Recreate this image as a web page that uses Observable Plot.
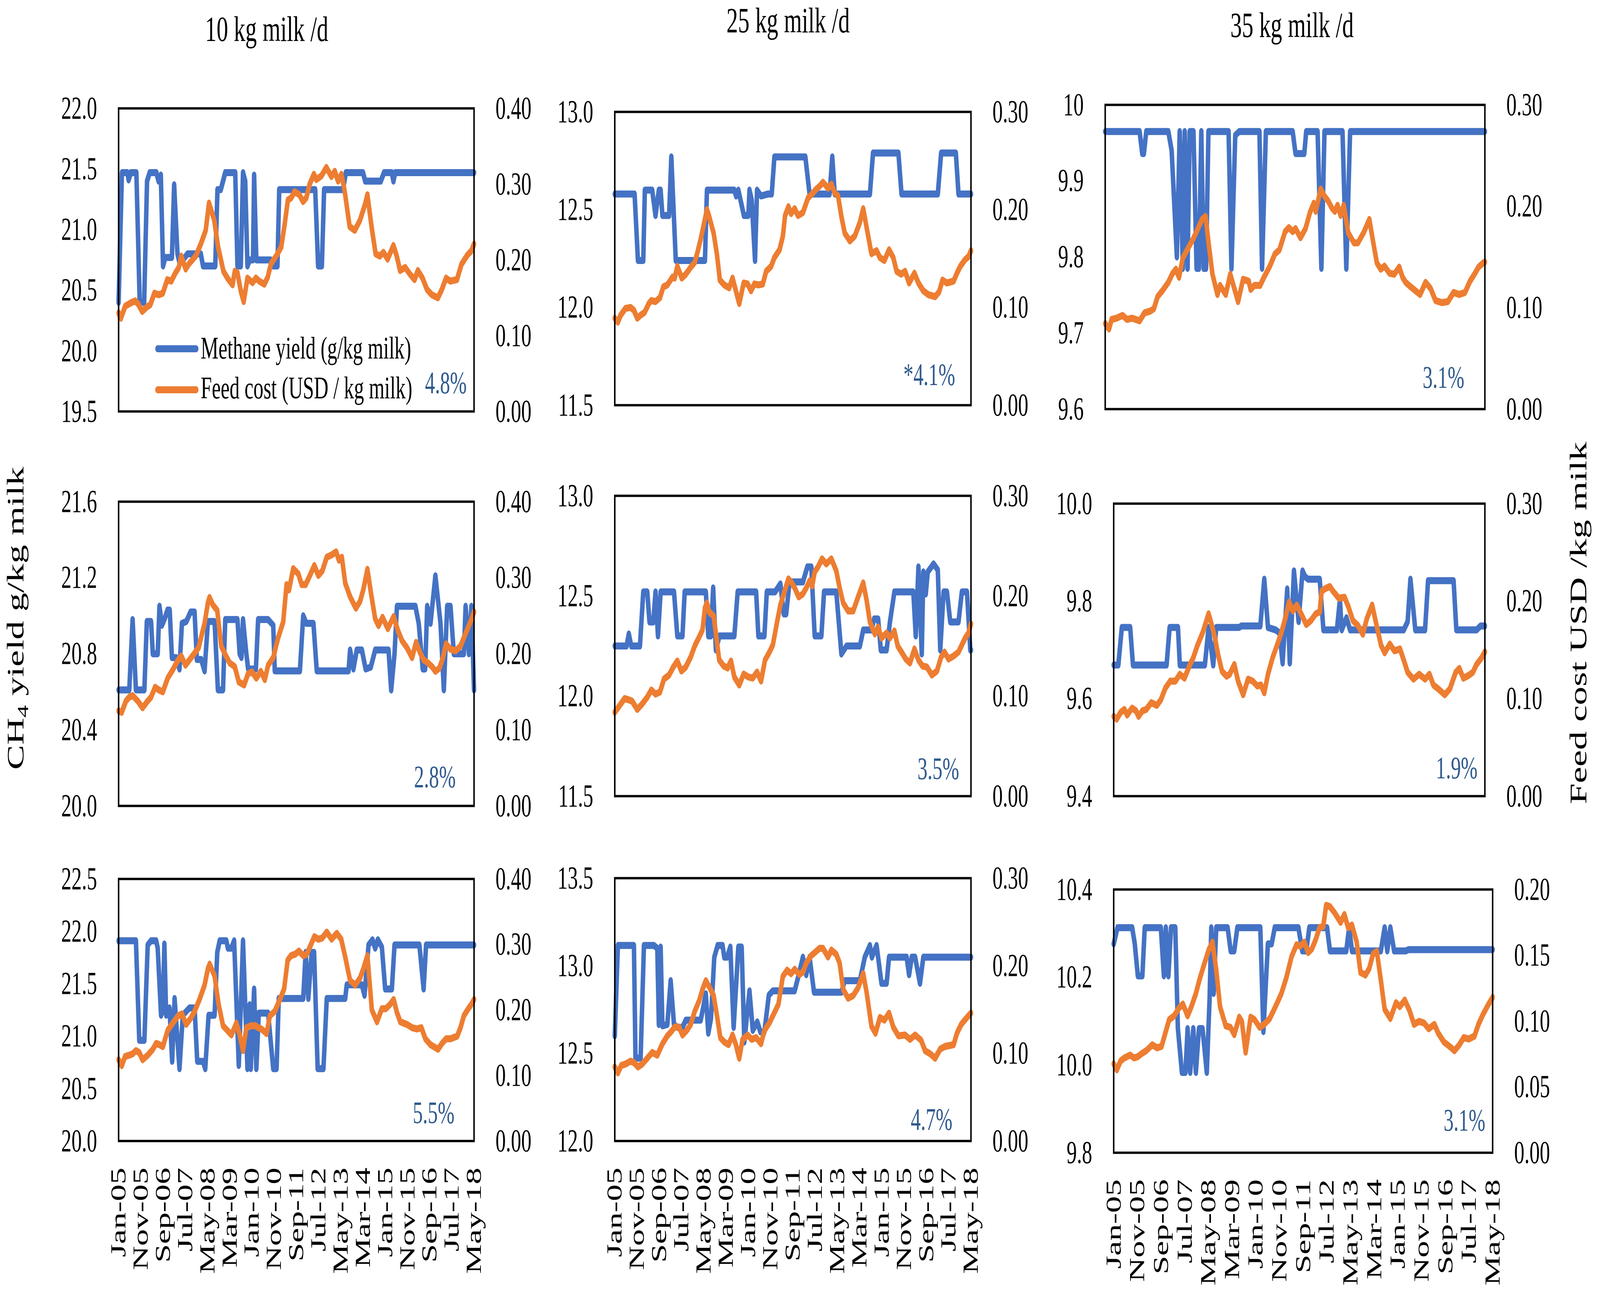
<!DOCTYPE html>
<html><head><meta charset="utf-8">
<script src="https://cdn.jsdelivr.net/npm/d3@7"></script>
<script src="https://cdn.jsdelivr.net/npm/@observablehq/plot@0.6"></script>
<style>
html,body{margin:0;padding:0;background:#fff;overflow:hidden;}
#page{position:absolute;left:0;top:0;width:6401px;height:3326px;overflow:hidden;background:#fff;font-family:"Liberation Serif",serif;transform-origin:0 0;}
.panel{position:absolute;}
#overlay{position:absolute;left:0;top:0;}
</style></head><body><div id="page"></div>
<script>
// ---------- DATA (month index 0 = Jan-05 ... 160 = May-18) ----------
const monthTicks = [0,10,20,30,40,50,60,70,80,90,100,110,120,130,140,150,160];
const monthLabels = ["Jan-05","Nov-05","Sep-06","Jul-07","May-08","Mar-09","Jan-10","Nov-10","Sep-11","Jul-12","May-13","Mar-14","Jan-15","Nov-15","Sep-16","Jul-17","May-18"];
const columnTitles = ["10 kg milk /d","25 kg milk /d","35 kg milk /d"];
const seriesNames = ["Methane yield (g/kg milk)","Feed cost (USD / kg milk)"];
const pctLabels = ["4.8%","*4.1%","3.1%","2.8%","3.5%","1.9%","5.5%","4.7%","3.1%"];

const yTicks_10A = [19.5,20,20.5,21,21.5,22], yLabels_10A = ["19.5","20.0","20.5","21.0","21.5","22.0"];
const yTicks_25A = [11.5,12,12.5,13], yLabels_25A = ["11.5","12.0","12.5","13.0"];
const yTicks_35A = [9.6,9.7,9.8,9.9,10], yLabels_35A = ["9.6","9.7","9.8","9.9","10"];
const yTicks_10B = [20,20.4,20.8,21.2,21.6], yLabels_10B = ["20.0","20.4","20.8","21.2","21.6"];
const yTicks_25B = [11.5,12,12.5,13], yLabels_25B = ["11.5","12.0","12.5","13.0"];
const yTicks_35B = [9.4,9.6,9.8,10], yLabels_35B = ["9.4","9.6","9.8","10.0"];
const yTicks_10C = [20,20.5,21,21.5,22,22.5], yLabels_10C = ["20.0","20.5","21.0","21.5","22.0","22.5"];
const yTicks_25C = [12,12.5,13,13.5], yLabels_25C = ["12.0","12.5","13.0","13.5"];
const yTicks_35C = [9.8,10,10.2,10.4], yLabels_35C = ["9.8","10.0","10.2","10.4"];
const cTicks_040 = [0,0.1,0.2,0.3,0.4], cLabels_040 = ["0.00","0.10","0.20","0.30","0.40"];
const cTicks_030 = [0,0.1,0.2,0.3], cLabels_030 = ["0.00","0.10","0.20","0.30"];
const cTicks_020 = [0,0.05,0.1,0.15,0.2], cLabels_020 = ["0.00","0.05","0.10","0.15","0.20"];

const ch4_10A = [[0,20.40],[1.5,21.47],[4,21.47],[4.5,21.41],[5.5,21.47],[8,21.47],[9.5,20.40],[11.5,20.40],[12.8,21.40],[14,21.47],[17,21.47],[18,21.40],[19,21.45],[20,20.70],[21,20.77],[24,20.77],[25,21.37],[26.5,20.80],[27.5,20.72],[29,20.75],[31,20.80],[37,20.80],[38,20.70],[43.5,20.70],[44.5,21.33],[46,21.33],[47,21.40],[48,21.47],[52.5,21.47],[53.5,20.70],[55,20.70],[56,21.47],[57,21.40],[58,20.70],[59,20.75],[60.5,20.75],[61,21.45],[62,20.75],[68.5,20.75],[69.5,20.70],[71.5,20.70],[72.3,21.33],[88.5,21.33],[89.8,20.70],[91.5,20.70],[92.5,21.33],[101,21.33],[102.3,21.47],[110,21.47],[111,21.40],[118,21.40],[119.5,21.47],[123,21.47],[123.7,21.40],[124.5,21.47],[160,21.47]];
const cost_10A = [[0,0.130],[1,0.123],[3,0.139],[5.3,0.143],[7.5,0.146],[9,0.141],[10.6,0.132],[12.8,0.138],[14.3,0.141],[16.1,0.156],[18.1,0.154],[19.9,0.156],[21.9,0.174],[23.7,0.172],[25.6,0.183],[27.1,0.190],[28.2,0.205],[30.2,0.188],[31.7,0.195],[34.7,0.205],[37,0.221],[39.2,0.239],[40.7,0.275],[43,0.253],[44.8,0.217],[47.2,0.185],[49,0.176],[51.3,0.167],[52.3,0.185],[53.5,0.183],[55,0.159],[56.3,0.145],[58,0.176],[60.3,0.170],[61.8,0.176],[63.3,0.172],[65.6,0.168],[67.1,0.177],[68.6,0.195],[70.9,0.205],[73.2,0.217],[74.7,0.246],[76.2,0.279],[77.7,0.282],[79.2,0.290],[81.4,0.286],[83,0.277],[84.5,0.282],[86,0.300],[87.9,0.313],[89,0.306],[91.3,0.311],[93.5,0.322],[95.8,0.310],[97.3,0.317],[98.8,0.304],[100.3,0.313],[101.8,0.290],[104,0.244],[106.3,0.239],[108.6,0.252],[110.9,0.273],[112,0.286],[113.9,0.243],[115.7,0.208],[117.6,0.205],[119.2,0.210],[121.1,0.201],[123.7,0.219],[125.2,0.205],[126.7,0.186],[129,0.190],[131.2,0.181],[133.2,0.174],[134.7,0.186],[136.8,0.176],[138.8,0.161],[141,0.154],[143.7,0.150],[145.5,0.161],[147.4,0.176],[149.3,0.172],[152.3,0.174],[154.3,0.194],[156.9,0.206],[158.8,0.212],[160,0.221]];

const ch4_25A = [[0,12.58],[8.9,12.58],[10.4,12.24],[12.8,12.24],[13.5,12.60],[16.8,12.60],[18.3,12.47],[19.8,12.60],[20.6,12.60],[21.4,12.47],[24.4,12.47],[25.4,12.77],[27.4,12.24],[40.5,12.24],[41.4,12.60],[53.7,12.60],[54.5,12.57],[55.5,12.60],[58,12.47],[60,12.47],[60.5,12.60],[61.5,12.55],[63,12.24],[63.9,12.60],[65.7,12.57],[68.7,12.58],[70.5,12.58],[71.7,12.77],[85.6,12.77],[87.5,12.58],[96.5,12.58],[97.7,12.77],[98.8,12.58],[114.6,12.58],[116,12.79],[127.4,12.79],[128.8,12.58],[145.1,12.58],[146.6,12.79],[153.2,12.79],[154.4,12.58],[160,12.58]];
const cost_25A = [[0,0.089],[1.4,0.085],[2.6,0.092],[4.8,0.099],[7.1,0.100],[8.6,0.097],[10.1,0.089],[11.6,0.092],[13.4,0.095],[15.3,0.104],[16.4,0.107],[18.3,0.106],[20.3,0.110],[21.8,0.121],[23.6,0.123],[25.9,0.131],[26.9,0.130],[28.1,0.142],[30.1,0.130],[31.9,0.134],[34.1,0.141],[35.9,0.146],[37.1,0.156],[38.6,0.170],[40.2,0.187],[41.4,0.200],[42.4,0.193],[44.4,0.176],[45.9,0.154],[47.2,0.128],[49.2,0.123],[51.4,0.120],[52.9,0.130],[54.4,0.117],[55.9,0.104],[57.9,0.125],[59.7,0.124],[61.2,0.117],[62.7,0.124],[64.5,0.123],[66.5,0.124],[68,0.137],[70.2,0.142],[71.7,0.151],[74,0.159],[75.5,0.173],[76.5,0.194],[78,0.203],[79.2,0.196],[80.8,0.201],[82.3,0.194],[84.5,0.197],[86.8,0.212],[89,0.217],[90.5,0.221],[92,0.224],[93.5,0.228],[95.8,0.222],[97.3,0.226],[98.8,0.217],[100.3,0.214],[101.8,0.193],[103.3,0.176],[105.6,0.168],[107.8,0.173],[110.1,0.187],[111.6,0.201],[113.1,0.182],[115.3,0.155],[117.6,0.158],[119.1,0.151],[121.1,0.148],[123.2,0.159],[125.1,0.151],[126.6,0.137],[128.6,0.134],[130.4,0.137],[132.2,0.125],[134.6,0.135],[136.4,0.125],[138.6,0.117],[140.9,0.113],[143.9,0.111],[145.7,0.116],[147.2,0.128],[149.2,0.125],[152.2,0.127],[153.7,0.135],[155.2,0.142],[157.4,0.149],[158.9,0.152],[160,0.158]];

const ch4_35A = [[0,9.965],[14.5,9.965],[15.6,9.936],[16.3,9.936],[17.3,9.965],[26.6,9.965],[28,9.94],[30.2,9.80],[31.4,9.965],[32.7,9.785],[33.5,9.965],[34.7,9.785],[35.6,9.965],[37.2,9.965],[38.5,9.785],[39.5,9.785],[40.5,9.965],[41.5,9.785],[42.5,9.785],[43.5,9.965],[52,9.965],[53.2,9.785],[54.8,9.96],[56.5,9.965],[65,9.965],[66.1,9.785],[67.7,9.965],[79,9.965],[80.2,9.936],[83.9,9.936],[84.7,9.965],[89.5,9.965],[91.1,9.785],[92.4,9.965],[100,9.965],[101.6,9.785],[103.2,9.965],[160,9.965]];
const cost_35A = [[0,0.0843],[1.6,0.079],[2.7,0.0884],[4.8,0.0897],[7.3,0.0924],[9.2,0.0884],[11.3,0.0897],[12.9,0.0884],[14.5,0.087],[16.6,0.095],[18.9,0.0965],[20.5,0.099],[22.1,0.111],[24.2,0.117],[26.6,0.125],[28.2,0.133],[29.8,0.138],[31.1,0.130],[32.7,0.149],[35,0.159],[37.1,0.168],[38.7,0.176],[40.8,0.187],[42.3,0.190],[43.5,0.165],[45.2,0.133],[47.3,0.113],[48.4,0.122],[50.8,0.113],[52.7,0.133],[54.4,0.119],[56,0.106],[58.1,0.128],[60.5,0.126],[61.3,0.118],[62.9,0.122],[65.3,0.122],[66.9,0.130],[69.4,0.141],[71.5,0.153],[73.4,0.157],[75.8,0.175],[77.4,0.179],[79,0.175],[80.2,0.178],[82.3,0.169],[84.4,0.178],[86.3,0.194],[87.9,0.203],[88.7,0.195],[90.8,0.217],[92.4,0.210],[94,0.205],[95.6,0.198],[96.8,0.195],[97.9,0.201],[99.2,0.191],[100.5,0.201],[102.4,0.174],[104.8,0.164],[106.5,0.164],[108.9,0.174],[111.3,0.187],[112.9,0.165],[114.5,0.144],[116.1,0.138],[117.7,0.141],[119.8,0.134],[121.8,0.133],[123.9,0.140],[125.3,0.130],[126.6,0.125],[128.5,0.121],[130.6,0.117],[132.7,0.113],[135,0.125],[137.1,0.119],[139.2,0.107],[141.9,0.105],[144.4,0.106],[146.8,0.115],[149.2,0.113],[151.6,0.115],[153.7,0.126],[155.6,0.133],[157.3,0.140],[159.2,0.144],[160,0.145]];

const ch4_10B = [[0,20.61],[4.8,20.61],[6.3,20.98],[7.8,20.61],[11.6,20.61],[12.7,20.97],[14.6,20.97],[15.4,20.80],[17.6,20.80],[18.4,21.05],[19.5,20.95],[20.6,20.98],[22,21.03],[23,21.03],[24,20.78],[25.9,20.78],[27.4,20.72],[28.5,20.96],[30.5,20.97],[32.4,21.02],[34.2,21.02],[35.2,20.77],[37.2,20.77],[38.7,20.71],[40.2,20.97],[43.2,20.97],[44.7,20.61],[47,20.61],[48,20.98],[53.5,20.98],[54.5,20.80],[55.3,20.78],[56,20.98],[57.5,20.80],[58.3,20.72],[61.8,20.72],[62.8,20.98],[67.3,20.98],[69.6,20.95],[70.3,20.71],[81.6,20.71],[83.1,21.00],[84.5,20.96],[87.7,20.96],[89.2,20.71],[103.5,20.71],[104.2,20.82],[105.7,20.72],[107.2,20.82],[109.5,20.82],[111.2,20.72],[113.5,20.73],[115.5,20.82],[121.5,20.82],[122.7,20.61],[124.2,20.80],[125.3,21.05],[133.6,21.05],[135.1,20.96],[136.9,20.72],[138,20.72],[138.9,21.05],[140.4,20.96],[142.6,21.21],[144.9,20.96],[146.4,20.61],[147.9,21.05],[149.4,21.05],[150.9,20.80],[155.4,20.80],[156.2,21.05],[157.7,20.80],[158.8,21.05],[160,20.61]];
const cost_10B = [[0,0.125],[1.4,0.123],[3.3,0.138],[4.8,0.143],[6.3,0.145],[8.6,0.138],[10.8,0.129],[13.1,0.138],[14.6,0.143],[16.4,0.156],[18.4,0.152],[19.9,0.150],[22.1,0.168],[24.4,0.179],[26.4,0.190],[28.2,0.197],[30.1,0.185],[31.9,0.192],[34.2,0.201],[36,0.208],[38.7,0.240],[40.2,0.267],[40.9,0.274],[42.5,0.264],[44.4,0.257],[46.2,0.210],[48,0.199],[50,0.188],[52.3,0.183],[54.1,0.163],[56.5,0.159],[58.3,0.174],[60.1,0.176],[62,0.168],[64,0.177],[65.8,0.166],[67.3,0.185],[69.6,0.195],[71.8,0.221],[74.1,0.242],[75.6,0.291],[76.7,0.284],[78.6,0.312],[80.9,0.305],[82.4,0.291],[84.2,0.291],[86.1,0.303],[88.1,0.316],[89.9,0.303],[91.7,0.309],[93.7,0.327],[95.9,0.330],[97.9,0.334],[99.2,0.323],[100.5,0.327],[102,0.293],[104.2,0.275],[106.8,0.260],[108.7,0.269],[110.2,0.285],[112,0.311],[113.7,0.278],[115.5,0.246],[117,0.237],[118.8,0.248],[121.2,0.233],[123.8,0.249],[125.8,0.230],[127.6,0.217],[129.8,0.208],[132.1,0.195],[133.9,0.215],[135.8,0.201],[137.3,0.192],[139.3,0.188],[141.1,0.183],[142.6,0.177],[144.4,0.181],[145.9,0.194],[147.4,0.213],[149.4,0.206],[151.7,0.204],[153.9,0.210],[155.4,0.221],[157.4,0.235],[158.9,0.246],[160,0.255]];

const ch4_25B = [[0,12.25],[5.3,12.25],[6.3,12.31],[7.4,12.25],[11.3,12.25],[12.8,12.52],[14.6,12.52],[15.6,12.37],[17.3,12.37],[18.3,12.52],[19.4,12.30],[20.6,12.52],[26.6,12.52],[28.1,12.30],[30.4,12.30],[31.4,12.52],[40.9,12.52],[42,12.30],[43.2,12.30],[44.2,12.54],[45.4,12.23],[47,12.30],[53.7,12.30],[55.2,12.52],[63.5,12.52],[64.5,12.30],[67.2,12.30],[68.3,12.52],[72,12.52],[74.4,12.56],[75.9,12.41],[77,12.41],[78.5,12.57],[84.5,12.57],[86.5,12.645],[88.3,12.645],[89.8,12.30],[92.8,12.30],[94,12.52],[99.5,12.52],[101.8,12.21],[104.1,12.25],[110.1,12.25],[111.6,12.33],[115.3,12.33],[116.5,12.385],[118.3,12.385],[119.5,12.23],[122.1,12.23],[123.6,12.37],[125.6,12.52],[134.1,12.52],[135.2,12.30],[136.4,12.645],[137.9,12.21],[138.6,12.62],[139.7,12.51],[140.6,12.62],[143.2,12.66],[145.1,12.63],[146.2,12.23],[147.7,12.52],[149.2,12.52],[150.7,12.37],[154.4,12.37],[155.9,12.52],[158.2,12.52],[159.7,12.23],[160,12.23]];
const cost_25B = [[0,0.0838],[1.8,0.0893],[4.4,0.0975],[6.3,0.0962],[7.8,0.0948],[10.1,0.0866],[12.3,0.0921],[14.6,0.0989],[16.4,0.106],[18.3,0.102],[20.3,0.104],[22.1,0.117],[24.4,0.121],[26.3,0.129],[28.1,0.135],[29.9,0.125],[31.9,0.129],[34.1,0.139],[35.9,0.150],[37.9,0.159],[39.4,0.166],[40.5,0.188],[41.4,0.193],[42.4,0.184],[44.4,0.180],[45.4,0.163],[46.9,0.136],[48.9,0.130],[50.7,0.128],[52.2,0.135],[53.7,0.119],[55.9,0.111],[57.9,0.122],[60,0.119],[62,0.118],[63.9,0.124],[65.7,0.115],[67.5,0.136],[69.5,0.144],[71,0.151],[72.9,0.174],[74.4,0.191],[75.9,0.202],[78,0.217],[79.2,0.214],[80.8,0.208],[82.6,0.199],[84.5,0.202],[86,0.208],[87.5,0.215],[88.7,0.210],[89.8,0.224],[91.3,0.229],[93.1,0.237],[95,0.232],[97.3,0.237],[99.5,0.225],[101,0.208],[102.6,0.193],[104.8,0.185],[107.1,0.185],[109.3,0.199],[111.6,0.213],[113.1,0.196],[114.6,0.174],[116.8,0.162],[118.3,0.169],[119.8,0.158],[122.1,0.163],[123.6,0.158],[125.6,0.165],[127.1,0.150],[128.8,0.144],[130.7,0.137],[132.6,0.133],[134.6,0.147],[136.4,0.136],[138.2,0.130],[140.2,0.129],[142.4,0.121],[144.7,0.125],[146.6,0.139],[148.1,0.144],[149.9,0.137],[152.2,0.140],[154.4,0.144],[155.9,0.151],[157.4,0.158],[158.9,0.163],[160,0.172]];

const ch4_35B = [[0,9.669],[2,9.669],[3.5,9.746],[7.1,9.746],[8.3,9.669],[22.8,9.669],[24.1,9.746],[27.7,9.746],[28.5,9.669],[39.3,9.669],[40.9,9.746],[42.9,9.669],[44.2,9.746],[54.1,9.746],[55,9.749],[63.2,9.749],[64.9,9.845],[66.5,9.746],[69.8,9.741],[71.5,9.735],[72.8,9.673],[74.8,9.825],[75.9,9.673],[77.7,9.862],[79.7,9.758],[81.4,9.862],[82.5,9.85],[83.8,9.845],[88.8,9.845],[90.4,9.741],[96.2,9.741],[97.5,9.803],[98.3,9.741],[100.3,9.766],[101.9,9.741],[125,9.741],[126.7,9.758],[127.9,9.845],[130,9.741],[134.2,9.741],[135.5,9.842],[146.5,9.842],[147.7,9.741],[156.4,9.741],[158.1,9.749],[160,9.749]];
const cost_35B = [[0,0.0818],[1.3,0.079],[3,0.086],[4.6,0.0889],[5.8,0.0832],[7.9,0.0903],[9.6,0.0875],[10.7,0.0818],[12.4,0.0875],[14,0.0889],[16.2,0.0959],[18.6,0.0931],[20.3,0.0987],[22.3,0.111],[24.4,0.118],[26.6,0.118],[28.5,0.125],[30.5,0.121],[32.7,0.134],[34.3,0.142],[36,0.154],[38.4,0.168],[40.9,0.187],[42.2,0.176],[43.7,0.162],[45,0.145],[46.7,0.128],[48.7,0.123],[50,0.125],[52,0.135],[53.6,0.118],[55.8,0.104],[57.9,0.120],[59.9,0.118],[61.9,0.113],[63.5,0.114],[64.9,0.106],[66.5,0.125],[68.5,0.142],[70.6,0.156],[72.3,0.168],[73.9,0.182],[75.6,0.199],[77.2,0.190],[78.9,0.196],[81.4,0.184],[83,0.176],[85,0.180],[87.1,0.187],[88.8,0.189],[89.6,0.210],[91.3,0.213],[93.2,0.215],[94.6,0.210],[97,0.203],[99.5,0.204],[101.2,0.194],[103.1,0.180],[105.3,0.175],[107.4,0.166],[109.1,0.182],[111.4,0.196],[113.5,0.173],[115.2,0.155],[116.8,0.147],[119,0.156],[121,0.149],[123.4,0.151],[125.1,0.139],[126.7,0.127],[129.2,0.120],[131.7,0.125],[134.2,0.120],[136.1,0.125],[137.8,0.114],[139.9,0.110],[142.7,0.104],[144.9,0.110],[147.4,0.127],[149,0.131],[150.7,0.121],[153.1,0.124],[154.8,0.127],[156.4,0.135],[158.6,0.142],[160,0.148]];

const ch4_10C = [[0,21.91],[7.8,21.91],[9.3,20.96],[11.6,20.96],[13.1,21.87],[14.6,21.91],[16.9,21.91],[17.6,21.84],[19.1,21.20],[19.9,21.25],[20.6,21.88],[21.4,21.20],[22.9,21.27],[24.1,20.76],[25.2,21.36],[27.4,20.69],[28.9,21.20],[31.9,21.27],[34.2,21.27],[35.4,20.76],[38,20.76],[39,20.69],[40.5,21.20],[43.2,21.20],[44.4,21.80],[45.5,21.91],[48.5,21.91],[49.2,21.84],[50.8,21.84],[52,21.91],[54.1,20.72],[56,21.91],[58,20.69],[59,21.30],[59.5,20.69],[61,21.45],[62,20.69],[63.1,21.22],[67.3,21.22],[69.6,20.69],[71.1,20.69],[72.1,21.36],[83.1,21.36],[84.2,21.80],[85.4,21.36],[86.9,21.80],[88,21.80],[89.6,20.69],[92.2,20.69],[93.7,21.36],[102,21.36],[102.7,21.49],[109.5,21.49],[110.7,21.39],[112.5,21.87],[114.3,21.92],[115.5,21.84],[116.7,21.92],[118.5,21.85],[120,21.45],[123,21.45],[124.2,21.87],[135.4,21.87],[137.3,21.45],[138.4,21.87],[160,21.87]];
const cost_10C = [[0,0.124],[1.4,0.115],[2.9,0.129],[4.8,0.131],[6.3,0.133],[7.8,0.138],[9.3,0.135],[10.8,0.124],[13.1,0.131],[15.4,0.140],[16.9,0.149],[18.4,0.147],[19.9,0.144],[22.1,0.169],[24.4,0.180],[26.7,0.191],[28.5,0.194],[30.4,0.178],[32.4,0.187],[34.2,0.198],[36.4,0.216],[38.7,0.238],[40.2,0.263],[41,0.270],[43.2,0.252],[45,0.209],[47,0.176],[48.9,0.169],[50.8,0.162],[53,0.180],[54.5,0.162],[56,0.138],[57.5,0.173],[59.8,0.176],[61.6,0.176],[62.8,0.173],[64.3,0.171],[66.6,0.164],[68.1,0.191],[70.3,0.198],[72.6,0.216],[74.5,0.232],[76.1,0.276],[77.6,0.283],[79.4,0.285],[81.2,0.290],[83.1,0.283],[84.6,0.285],[86.1,0.296],[88.1,0.312],[89.9,0.308],[91.7,0.310],[93.7,0.319],[95.9,0.308],[98.2,0.317],[100.2,0.308],[102,0.281],[104.2,0.245],[106.5,0.238],[108.7,0.249],[110.2,0.263],[112,0.283],[114,0.200],[116.3,0.182],[118.5,0.202],[120.3,0.202],[122.3,0.209],[123.8,0.216],[125.3,0.196],[126.8,0.182],[129.8,0.178],[132.1,0.173],[134.3,0.171],[136.3,0.173],[138.1,0.156],[140.4,0.147],[143.8,0.140],[145.6,0.149],[147.4,0.156],[149.4,0.156],[152.4,0.160],[153.9,0.173],[155.4,0.191],[157.4,0.202],[158.9,0.209],[160,0.216]];

const ch4_25C = [[0,12.60],[1.4,13.116],[8.6,13.116],[9.3,12.473],[11.6,12.473],[13.1,13.116],[17.6,13.116],[19.1,13.10],[19.8,12.665],[20.6,13.107],[21.4,12.657],[23.6,12.665],[25.1,12.915],[26.6,12.665],[28.1,12.648],[30.4,12.648],[31.9,12.69],[38.6,12.69],[40.9,12.84],[42,12.615],[43.2,12.698],[44.7,13.049],[46.2,13.116],[48.4,13.116],[49.2,13.049],[50.5,13.049],[51.9,13.107],[53.4,12.648],[55.5,13.107],[57,13.107],[58.2,12.565],[60.5,12.857],[62,12.631],[64,12.68],[65.4,12.623],[67.2,12.623],[69.2,12.832],[71,12.857],[80.8,12.857],[83,12.966],[84.5,13.049],[86,12.949],[87.5,13.049],[89.5,12.849],[101.8,12.849],[103.3,12.915],[110.1,12.915],[112.3,13.049],[114.6,13.116],[115.5,13.049],[117.6,13.116],[119.8,12.90],[122.1,12.90],[123.2,13.049],[131.1,13.049],[132.2,12.949],[133.4,13.049],[134.9,13.049],[137.1,12.90],[138.6,13.049],[160,13.049]];
const cost_25C = [[0,0.0845],[1.4,0.0778],[2.9,0.0862],[4.8,0.0878],[7.1,0.0912],[8.6,0.0895],[10.4,0.0845],[12.3,0.0878],[14.6,0.0945],[16.8,0.101],[19.1,0.098],[21.4,0.111],[23.6,0.120],[25.4,0.125],[26.9,0.130],[28.9,0.130],[30.4,0.121],[32.3,0.126],[34.1,0.133],[35.9,0.148],[37.9,0.160],[39.4,0.173],[40.9,0.183],[42.4,0.176],[44.4,0.166],[45.9,0.143],[47.4,0.118],[49.2,0.113],[51.1,0.110],[52.9,0.121],[54.4,0.110],[55.9,0.0945],[57.4,0.116],[59.7,0.121],[61.5,0.116],[63.5,0.118],[65.7,0.111],[67.2,0.126],[69.5,0.135],[71.4,0.145],[73.5,0.156],[75.5,0.188],[77.4,0.195],[79.2,0.191],[80.8,0.196],[83,0.190],[84.5,0.193],[86,0.203],[88,0.211],[89.8,0.215],[92,0.220],[93.5,0.220],[95.8,0.210],[97.3,0.218],[99.5,0.213],[101,0.203],[102.6,0.173],[104.8,0.163],[107.1,0.166],[109.3,0.175],[111.6,0.191],[113.1,0.170],[115.3,0.131],[117.1,0.123],[119.1,0.141],[121.1,0.138],[123.2,0.146],[125.1,0.130],[127.4,0.120],[130.4,0.121],[132.6,0.116],[134.9,0.121],[137.6,0.115],[139.4,0.103],[141.7,0.0995],[143.9,0.0945],[146.2,0.105],[148.4,0.108],[152.2,0.110],[153.7,0.123],[155.6,0.133],[158.2,0.141],[160,0.146]];

const ch4_35C = [[0,10.276],[1.6,10.313],[7.8,10.313],[8.9,10.276],[10.2,10.203],[12.1,10.203],[13.1,10.313],[19.9,10.313],[21.2,10.203],[22,10.313],[23.1,10.203],[24.2,10.313],[26,10.313],[27.1,10.083],[28.8,9.983],[30.3,9.983],[31.2,10.083],[32.3,9.983],[33.6,10.083],[34.7,9.983],[36,10.083],[37.5,10.083],[39.3,9.983],[40.5,10.153],[41.2,10.313],[42.2,10.163],[43.3,10.313],[48.1,10.313],[49.4,10.26],[50.9,10.26],[52.2,10.313],[61.9,10.313],[63.2,10.076],[65.1,10.276],[66.7,10.276],[68,10.313],[78,10.313],[79.6,10.26],[81.3,10.26],[82.6,10.313],[90.1,10.313],[91.3,10.26],[98.2,10.26],[99.4,10.313],[100.6,10.26],[112.8,10.26],[114.4,10.313],[115.5,10.26],[116.8,10.313],[118.4,10.26],[123.3,10.26],[124.5,10.263],[160,10.263]];
const cost_35C = [[0,0.0675],[1.3,0.063],[2.9,0.0697],[4.5,0.072],[6.9,0.0742],[8.6,0.072],[10.2,0.073],[11.8,0.0753],[13.7,0.0775],[16.3,0.082],[18.3,0.0797],[20.2,0.0808],[21.8,0.0909],[23.4,0.101],[25.5,0.104],[27.6,0.110],[29.2,0.113],[31.2,0.104],[32.8,0.111],[34.7,0.121],[36.3,0.132],[38,0.142],[40.1,0.154],[41.7,0.160],[43.3,0.139],[44.9,0.111],[47.3,0.0964],[49.3,0.0953],[50.9,0.0897],[53,0.103],[54.1,0.0998],[55.7,0.0764],[57.8,0.103],[59.5,0.101],[61.6,0.0953],[63.5,0.0975],[65.9,0.102],[68.3,0.111],[70.8,0.121],[72.9,0.133],[75.1,0.149],[77.2,0.158],[78.8,0.157],[80.5,0.160],[82.1,0.152],[83.7,0.155],[85.3,0.162],[86.9,0.171],[88.5,0.172],[89.7,0.188],[91.3,0.187],[93.4,0.182],[95.8,0.175],[97.4,0.181],[99,0.171],[100.6,0.173],[102.6,0.160],[104.2,0.137],[106.3,0.135],[107.9,0.140],[109.5,0.151],[111.1,0.153],[112.8,0.131],[114.4,0.109],[116.8,0.102],[119.2,0.114],[120.8,0.111],[122.9,0.116],[124.9,0.108],[126.8,0.0975],[128.9,0.0998],[131,0.0986],[133,0.0942],[135.4,0.0975],[137,0.0909],[139.4,0.0842],[141.8,0.0808],[143.9,0.0775],[145.9,0.082],[147.8,0.0875],[149.9,0.0864],[152.3,0.0886],[154,0.0975],[155.9,0.105],[158,0.112],[160,0.118]];

// ---------- LAYOUT / STYLE ----------
const BLUE = "#4472C4", ORANGE = "#ED7D31", PCT = "#2F5A8C";
const FONT = "'Liberation Serif', 'Times New Roman', serif";
const panels = [
  {ch4: ch4_10A, cost: cost_10A, yT: yTicks_10A, yL: yLabels_10A, cT: cTicks_040, cL: cLabels_040, frame: [474,277,1896,1053], pct: [1867,1007], xAxis: false},
  {ch4: ch4_25A, cost: cost_25A, yT: yTicks_25A, yL: yLabels_25A, cT: cTicks_030, cL: cLabels_030, frame: [2459,286,3884,1037], pct: [3821,986], xAxis: false},
  {ch4: ch4_35A, cost: cost_35A, yT: yTicks_35A, yL: yLabels_35A, cT: cTicks_030, cL: cLabels_030, frame: [4421,268,5940,1047], pct: [5858,993], xAxis: false},
  {ch4: ch4_10B, cost: cost_10B, yT: yTicks_10B, yL: yLabels_10B, cT: cTicks_040, cL: cLabels_040, frame: [474,1284,1896,2063], pct: [1823,2016], xAxis: false},
  {ch4: ch4_25B, cost: cost_25B, yT: yTicks_25B, yL: yLabels_25B, cT: cTicks_030, cL: cLabels_030, frame: [2459,1269,3884,2038], pct: [3837,1995], xAxis: false},
  {ch4: ch4_35B, cost: cost_35B, yT: yTicks_35B, yL: yLabels_35B, cT: cTicks_030, cL: cLabels_030, frame: [4455,1289,5940,2038], pct: [5911,1993], xAxis: false},
  {ch4: ch4_10C, cost: cost_10C, yT: yTicks_10C, yL: yLabels_10C, cT: cTicks_040, cL: cLabels_040, frame: [474,2250,1896,2921], pct: [1818,2876], xAxis: true},
  {ch4: ch4_25C, cost: cost_25C, yT: yTicks_25C, yL: yLabels_25C, cT: cTicks_030, cL: cLabels_030, frame: [2459,2248,3884,2921], pct: [3810,2893], xAxis: true},
  {ch4: ch4_35C, cost: cost_35C, yT: yTicks_35C, yL: yLabels_35C, cT: cTicks_020, cL: cLabels_020, frame: [4455,2277,5971,2951], pct: [5942,2895], xAxis: true}
];

const page = document.getElementById("page");

function makePanel(p) {
  const [fx0, fy0, fx1, fy1] = p.frame;
  const mL = 270, mR = 250, mT = 60, mB = p.xAxis ? 370 : 60;
  const width = fx1 - fx0 + mL + mR, height = fy1 - fy0 + mT + mB;
  const lo = p.yT[0], hi = p.yT[p.yT.length - 1];
  const cHi = p.cT[p.cT.length - 1];
  const toY = c => lo + c / cHi * (hi - lo);
  const yLab = new Map(p.yT.map((v, i) => [v, p.yL[i]]));
  const cPos = p.cT.map(toY);
  const cLab = new Map(cPos.map((v, i) => [v, p.cL[i]]));
  const xLab = new Map(monthTicks.map((v, i) => [v, monthLabels[i]]));
  const marks = [
    Plot.axisY(p.yT, {anchor: "left", tickSize: 0, tickPadding: 86, label: null, tickFormat: d => yLab.get(d)}),
    Plot.axisY(cPos, {anchor: "right", tickSize: 0, tickPadding: 86, label: null, tickFormat: d => cLab.get(d)}),
    Plot.line(p.ch4, {x: d => d[0], y: d => d[1], stroke: BLUE, strokeWidth: 18, strokeLinejoin: "round", strokeLinecap: "round"}),
    Plot.line(p.cost, {x: d => d[0], y: d => toY(d[1]), stroke: ORANGE, strokeWidth: 18, strokeLinejoin: "round", strokeLinecap: "round"}),
    Plot.frame({stroke: "#000", strokeWidth: 6})
  ];
  if (p.xAxis) {
    marks.push(Plot.axisX(monthTicks, {anchor: "bottom", tickSize: 0, tickPadding: 68, tickRotate: -90, label: null, fontSize: 86, tickFormat: d => xLab.get(d)}));
  }
  const chart = Plot.plot({
    width, height,
    marginLeft: mL, marginRight: mR, marginTop: mT, marginBottom: mB,
    x: p.xAxis ? {domain: [0, 160]} : {domain: [0, 160], axis: null},
    y: {domain: [lo, hi]},
    style: {fontFamily: FONT, fontSize: "82px", background: "transparent", overflow: "visible", color: "#000"},
    marks
  });
  const div = document.createElement("div");
  div.className = "panel";
  div.style.left = (fx0 - mL) + "px";
  div.style.top = (fy0 - mT) + "px";
  div.appendChild(chart);
  page.appendChild(div);
}
panels.forEach(makePanel);

// ---------- OVERLAY: titles, axis titles, legend, annotations ----------
const titlePos = [[1067,105],[3153,83],[5169,95]];
let s = `<svg id="overlay" width="6401" height="3326" xmlns="http://www.w3.org/2000/svg" font-family="${FONT}">`;
columnTitles.forEach((t, i) => {
  s += `<text x="${titlePos[i][0]}" y="${titlePos[i][1]}" text-anchor="middle" font-size="92" fill="#000">${t}</text>`;
});
s += `<text transform="translate(94,1583) rotate(-90)" text-anchor="middle" font-size="96" fill="#000">CH<tspan font-size="64" dy="18">4</tspan><tspan dy="-18"> yield g/kg milk</tspan></text>`;
s += `<text transform="translate(6346,1595) rotate(-90)" text-anchor="middle" font-size="96" fill="#000">Feed cost USD /kg milk</text>`;
s += `<line x1="630" x2="785" y1="893" y2="893" stroke="${BLUE}" stroke-width="18" stroke-linecap="round"/>`;
s += `<text x="803" y="918" font-size="80" fill="#000">${seriesNames[0]}</text>`;
s += `<line x1="630" x2="785" y1="998" y2="998" stroke="${ORANGE}" stroke-width="18" stroke-linecap="round"/>`;
s += `<text x="803" y="1020" font-size="80" fill="#000">${seriesNames[1]}</text>`;
panels.forEach((p, i) => {
  s += `<text x="${p.pct[0]}" y="${p.pct[1]}" text-anchor="end" font-size="80" fill="${PCT}">${pctLabels[i]}</text>`;
});
s += `</svg>`;
page.insertAdjacentHTML("beforeend", s);

// The browser window may be narrower than the 6401-px design; fit the whole figure into it.
function fit() {
  const sx = Math.min(1, window.innerWidth / 6401);
  const sy = Math.min(1, window.innerHeight / 3326);
  page.style.transform = `scale(${sx},${sy})`;
}
fit();
window.addEventListener("resize", fit);
</script></body></html>
